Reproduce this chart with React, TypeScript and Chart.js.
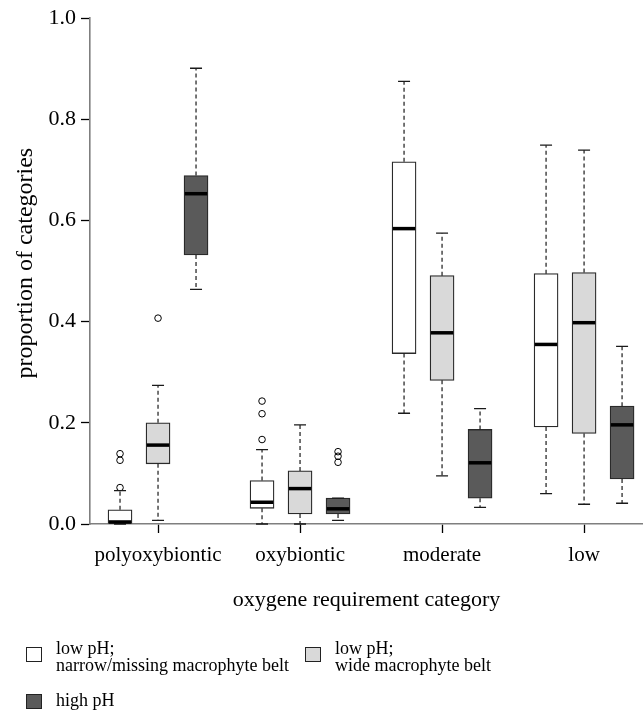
import React, { useEffect, useRef } from 'react';
import { Chart, registerables } from 'chart.js';

Chart.register(...registerables);

const categories = ['polyoxybiontic', 'oxybiontic', 'moderate', 'low'];
const yTickValues = [0, 0.2, 0.4, 0.6, 0.8, 1.0];
const xTitle = 'oxygene requirement category';
const yTitle = 'proportion of categories';

// low pH; narrow/missing macrophyte belt
const narrowMin = [0.0, 0.0, 0.219, 0.06];
const narrowQ1 = [0.0, 0.031, 0.337, 0.192];
const narrowMed = [0.004, 0.043, 0.584, 0.355];
const narrowQ3 = [0.028, 0.086, 0.716, 0.495];
const narrowMax = [0.066, 0.147, 0.875, 0.749];
const narrowOut = [[0.072, 0.126, 0.139], [0.167, 0.218, 0.243], [], []];

// low pH; wide macrophyte belt
const wideMin = [0.007, 0.0, 0.095, 0.039];
const wideQ1 = [0.119, 0.02, 0.284, 0.179];
const wideMed = [0.156, 0.07, 0.378, 0.398];
const wideQ3 = [0.2, 0.105, 0.491, 0.497];
const wideMax = [0.274, 0.196, 0.575, 0.739];
const wideOut = [[0.407], [], [], []];

// high pH
const highMin = [0.464, 0.007, 0.033, 0.041];
const highQ1 = [0.532, 0.02, 0.051, 0.089];
const highMed = [0.653, 0.03, 0.121, 0.196];
const highQ3 = [0.689, 0.051, 0.187, 0.233];
const highMax = [0.901, 0.051, 0.228, 0.351];
const highOut = [[], [0.122, 0.134, 0.143], [], []];

const legendLines = [
  ['low pH;', 'narrow/missing macrophyte belt'],
  ['low pH;', 'wide macrophyte belt'],
  ['high pH'],
];

const FONT = '"Liberation Serif", "Times New Roman", serif';
const colors = ['#ffffff', '#d9d9d9', '#5a5a5a'];

export default function App() {
  const ref = useRef<HTMLCanvasElement>(null);

  useEffect(() => {
    document.body.style.margin = '0';
    document.body.style.overflow = 'hidden';
    const series = [
      { min: narrowMin, q1: narrowQ1, med: narrowMed, q3: narrowQ3, max: narrowMax, out: narrowOut, offset: -0.2676, color: colors[0] },
      { min: wideMin, q1: wideQ1, med: wideMed, q3: wideQ3, max: wideMax, out: wideOut, offset: 0, color: colors[1] },
      { min: highMin, q1: highQ1, med: highMed, q3: highQ3, max: highMax, out: highOut, offset: 0.2676, color: colors[2] },
    ];

    const boxPlugin = {
      id: 'boxWhiskers',
      afterDatasetsDraw(chart: any) {
        const ctx = chart.ctx;
        const ys = chart.scales.y;
        series.forEach((s, si) => {
          const meta = chart.getDatasetMeta(si);
          meta.data.forEach((el: any, i: number) => {
            const { x, width } = el.getProps(['x', 'width'], true);
            const half = width / 2;
            const pMin = ys.getPixelForValue(s.min[i]);
            const pQ1 = ys.getPixelForValue(s.q1[i]);
            const pMed = ys.getPixelForValue(s.med[i]);
            const pQ3 = ys.getPixelForValue(s.q3[i]);
            const pMax = ys.getPixelForValue(s.max[i]);
            ctx.save();
            ctx.strokeStyle = '#1a1a1a';
            ctx.lineWidth = 1.2;
            ctx.setLineDash([4, 3]);
            ctx.beginPath();
            if (pMax < pQ3) {
              ctx.moveTo(x, pQ3);
              ctx.lineTo(x, pMax);
            }
            if (pMin > pQ1) {
              ctx.moveTo(x, pQ1);
              ctx.lineTo(x, pMin);
            }
            ctx.stroke();
            ctx.setLineDash([]);
            ctx.lineWidth = 1.3;
            ctx.beginPath();
            ctx.moveTo(x - half / 2, pMax);
            ctx.lineTo(x + half / 2, pMax);
            ctx.moveTo(x - half / 2, pMin);
            ctx.lineTo(x + half / 2, pMin);
            ctx.stroke();
            ctx.strokeStyle = '#000';
            ctx.lineWidth = 3.5;
            ctx.beginPath();
            ctx.moveTo(x - half + 0.8, pMed);
            ctx.lineTo(x + half - 0.8, pMed);
            ctx.stroke();
            ctx.restore();
          });
        });
      },
      afterDraw(chart: any) {
        const ctx = chart.ctx;
        const area = chart.chartArea;
        ctx.save();
        ctx.translate(26, (area.top + area.bottom) / 2 - 8);
        ctx.rotate(-Math.PI / 2);
        ctx.font = `24px ${FONT}`;
        ctx.fillStyle = '#000';
        ctx.textAlign = 'center';
        ctx.textBaseline = 'middle';
        ctx.fillText(yTitle, 0, 0);
        ctx.restore();
      },
    };

    const barDatasets = series.map((s, si) => ({
      type: 'bar' as const,
      label: legendLines[si].join(' '),
      data: categories.map((_, i) => ({ x: i + 1 + s.offset, y: [s.q1[i], s.q3[i]] })),
      backgroundColor: s.color,
      borderColor: '#2a2a2a',
      borderWidth: 1.3,
      borderSkipped: false,
      grouped: false,
      barPercentage: 1,
      categoryPercentage: 1,
      maxBarThickness: 24,
      clip: false as const,
      order: 2,
    }));

    const outlierDatasets = series.map((s, si) => ({
      type: 'scatter' as const,
      label: legendLines[si].join(' ') + ' (outliers)',
      data: s.out.flatMap((vals, i) => vals.map((v) => ({ x: i + 1 + s.offset, y: v }))),
      pointStyle: 'circle',
      pointRadius: 3.3,
      pointBorderWidth: 1,
      pointBorderColor: '#000',
      pointBackgroundColor: 'rgba(255,255,255,0)',
      showLine: false,
      clip: false as const,
      order: 1,
    }));

    const chart = new Chart(ref.current as HTMLCanvasElement, {
      type: 'bar',
      data: { datasets: [...barDatasets, ...outlierDatasets] as any },
      options: {
        responsive: false,
        animation: false,
        events: [],
        layout: { autoPadding: false, padding: { top: 16, right: 0, left: 0, bottom: 101 } },
        plugins: { legend: { display: false }, tooltip: { enabled: false } },
        scales: {
          x: {
            type: 'linear',
            offset: false,
            min: 0.521,
            max: 4.415,
            afterBuildTicks: (sc: any) => {
              sc.ticks = categories.map((_, i) => ({ value: i + 1 }));
            },
            afterFit: (sc: any) => {
              sc.height = 89;
              sc.paddingLeft = 0;
              sc.paddingRight = 0;
            },
            ticks: {
              callback: (v: any) => categories[Math.round(Number(v)) - 1] ?? '',
              color: '#000',
              font: { family: FONT, size: 21 },
              padding: 10,
              autoSkip: false,
              maxRotation: 0,
            },
            grid: { offset: false, drawOnChartArea: false, drawTicks: true, tickLength: 9, tickColor: '#000', tickWidth: 1.3 },
            border: { display: true, color: '#7f7f7f', width: 1.6 },
            title: {
              display: true,
              text: xTitle,
              color: '#000',
              font: { family: FONT, size: 22 },
              padding: { top: 0, bottom: 0 },
            },
          },
          y: {
            type: 'linear',
            min: 0,
            max: 1,
            afterBuildTicks: (sc: any) => {
              sc.ticks = yTickValues.map((v) => ({ value: v }));
            },
            afterFit: (sc: any) => {
              sc.width = 90;
            },
            ticks: {
              callback: (v: any) => Number(v).toFixed(1),
              color: '#000',
              font: { family: FONT, size: 22 },
              padding: 5,
            },
            grid: { drawOnChartArea: false, drawTicks: true, tickLength: 9, tickColor: '#000', tickWidth: 1.3 },
            border: { display: true, color: '#7f7f7f', width: 1.6 },
            title: { display: false },
          },
        },
      } as any,
      plugins: [boxPlugin],
    });
    return () => chart.destroy();
  }, []);

  const legendPos = [
    { box: { left: 26, top: 647 }, text: { left: 56, top: 640 } },
    { box: { left: 305, top: 647 }, text: { left: 335, top: 640 } },
    { box: { left: 26, top: 694 }, text: { left: 56, top: 692 } },
  ];

  return (
    <div style={{ position: 'relative', width: 643, height: 714, background: '#fff' }}>
      <canvas ref={ref} width={643} height={714} style={{ display: 'block', width: 643, height: 714 }} />
      {legendLines.map((lines, i) => (
        <React.Fragment key={i}>
          <div
            style={{
              position: 'absolute',
              left: legendPos[i].box.left,
              top: legendPos[i].box.top,
              width: 16,
              height: 15,
              boxSizing: 'border-box',
              border: '1.5px solid #222',
              background: colors[i],
            }}
          />
          <div
            style={{
              position: 'absolute',
              left: legendPos[i].text.left,
              top: legendPos[i].text.top,
              fontFamily: FONT,
              fontSize: 18,
              lineHeight: '16.7px',
              whiteSpace: 'nowrap',
              color: '#000',
            }}
          >
            {lines.map((l, j) => (
              <div key={j}>{l}</div>
            ))}
          </div>
        </React.Fragment>
      ))}
    </div>
  );
}
